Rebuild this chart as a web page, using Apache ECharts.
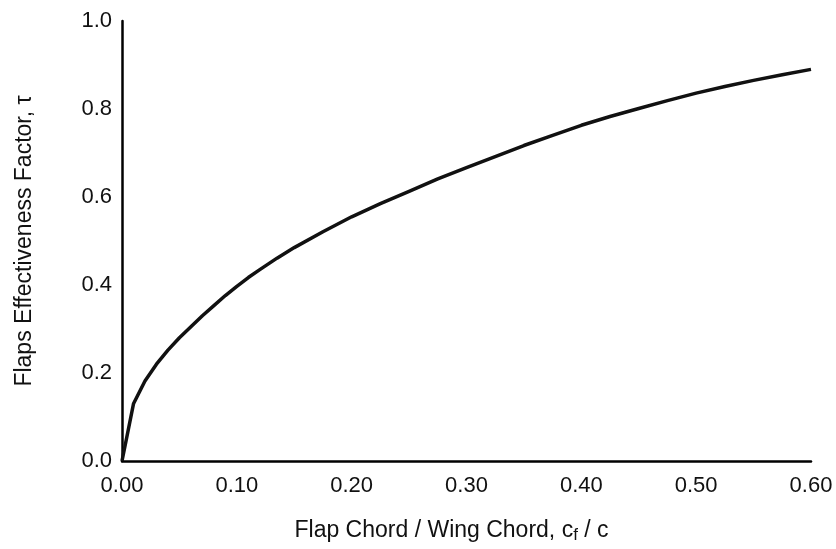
<!DOCTYPE html>
<html>
<head>
<meta charset="utf-8">
<script src="https://cdn.jsdelivr.net/npm/echarts@6/dist/echarts.min.js"></script>
<style>html,body{margin:0;padding:0;background:#fff}#c{width:836px;height:549px}</style>
</head>
<body>
<div id="c"></div>
<script>
const chordRatio = [0, 0.01, 0.02, 0.03, 0.04, 0.05, 0.06, 0.07, 0.08, 0.09, 0.10, 0.11, 0.12, 0.135, 0.15, 0.175, 0.20, 0.225, 0.25, 0.275, 0.30, 0.325, 0.35, 0.375, 0.40, 0.425, 0.45, 0.475, 0.50, 0.525, 0.55, 0.575, 0.60];
const tau =        [0, 0.13, 0.182, 0.22, 0.252, 0.28, 0.305, 0.33, 0.353, 0.376, 0.397, 0.417, 0.435, 0.461, 0.485, 0.521, 0.555, 0.585, 0.613, 0.641, 0.667, 0.692, 0.717, 0.740, 0.763, 0.783, 0.801, 0.819, 0.836, 0.851, 0.865, 0.878, 0.89];
const xTickFmt = v => v.toFixed(2);
const yTickFmt = v => v.toFixed(1);

const font = 'Liberation Sans, Arial, Helvetica, sans-serif';
const chart = echarts.init(document.getElementById('c'));
chart.setOption({
  animation: false,
  backgroundColor: '#fff',
  grid: {left: 122, right: 25, top: 21, bottom: 88},
  xAxis: {
    type: 'value', min: 0, max: 0.6, interval: 0.1,
    name: 'Flap Chord / Wing Chord, c{sub|f} / c',
    nameLocation: 'middle', nameGap: 57,
    nameTextStyle: {fontFamily: font, fontSize: 23, color: '#111', padding: [0, 30, 0, 0],
      rich: {sub: {fontFamily: font, fontSize: 17, color: '#111', padding: [9, 0, 0, 0]}}},
    axisLine: {show: true, lineStyle: {color: '#000', width: 2.5}},
    axisTick: {show: false},
    splitLine: {show: false},
    axisLabel: {fontFamily: font, fontSize: 22, color: '#111', margin: 14, formatter: xTickFmt}
  },
  yAxis: {
    type: 'value', min: 0, max: 1.0, interval: 0.2,
    name: 'Flaps Effectiveness Factor, τ',
    nameLocation: 'middle', nameGap: 86,
    nameTextStyle: {fontFamily: font, fontSize: 23, color: '#111'},
    axisLine: {show: true, lineStyle: {color: '#000', width: 2.5}},
    axisTick: {show: false},
    splitLine: {show: false},
    axisLabel: {fontFamily: font, fontSize: 22, color: '#111', margin: 10, formatter: yTickFmt}
  },
  series: [{
    type: 'line',
    data: chordRatio.map((x, i) => [x, tau[i]]),
    showSymbol: false,
    smooth: false,
    lineStyle: {color: '#111', width: 3.5, join: 'round'}
  }]
});
</script>
</body>
</html>
